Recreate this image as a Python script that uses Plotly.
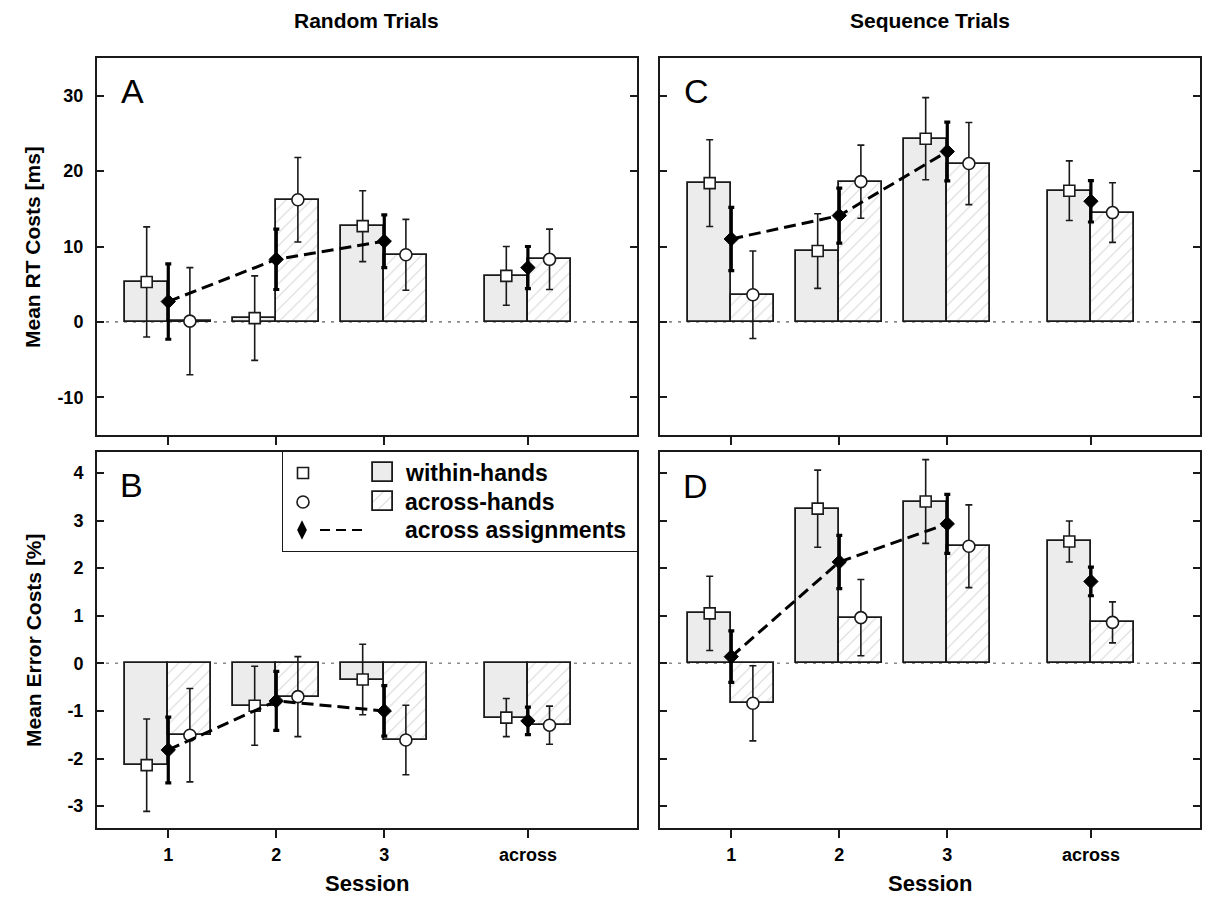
import plotly.graph_objects as go

FIG_W, FIG_H = 1209, 909
FONT = "Liberation Sans, Arial, Helvetica, sans-serif"
INK = "#1a1a1a"

# ---------------------------------------------------------------- data
session_labels = ["1", "2", "3", "across"]
session_pos = [1, 2, 3, 4.33]

# A: RT costs (ms), random trials
rt_rand_within = [5.3, 0.5, 12.7, 6.1]
rt_rand_within_err = [7.3, 5.6, 4.7, 3.9]
rt_rand_across = [0.1, 16.2, 8.9, 8.3]
rt_rand_across_err = [7.1, 5.6, 4.7, 4.0]
rt_rand_assign = [2.7, 8.3, 10.7, 7.2]
rt_rand_assign_err = [5.0, 4.0, 3.5, 2.8]

# C: RT costs (ms), sequence trials
rt_seq_within = [18.4, 9.4, 24.3, 17.4]
rt_seq_within_err = [5.75, 4.95, 5.45, 3.95]
rt_seq_across = [3.6, 18.6, 21.0, 14.5]
rt_seq_across_err = [5.8, 4.85, 5.45, 3.95]
rt_seq_assign = [11.0, 14.1, 22.6, 16.0]
rt_seq_assign_err = [4.2, 3.65, 3.9, 2.75]

# B: error costs (%), random trials
err_rand_within = [-2.14, -0.89, -0.34, -1.14]
err_rand_within_err = [0.97, 0.83, 0.74, 0.40]
err_rand_across = [-1.51, -0.70, -1.61, -1.30]
err_rand_across_err = [0.98, 0.84, 0.73, 0.40]
err_rand_assign = [-1.82, -0.79, -1.00, -1.21]
err_rand_assign_err = [0.69, 0.62, 0.53, 0.29]

# D: error costs (%), sequence trials
err_seq_within = [1.05, 3.25, 3.40, 2.56]
err_seq_within_err = [0.78, 0.81, 0.88, 0.43]
err_seq_across = [-0.84, 0.96, 2.46, 0.86]
err_seq_across_err = [0.79, 0.80, 0.87, 0.43]
err_seq_assign = [0.14, 2.13, 2.93, 1.72]
err_seq_assign_err = [0.54, 0.56, 0.62, 0.30]

rt_ticks = [-10, 0, 10, 20, 30]
rt_tick_labels = ["-10", "0", "10", "20", "30"]
err_ticks = [-3, -2, -1, 0, 1, 2, 3, 4]
err_tick_labels = ["-3", "-2", "-1", "0", "1", "2", "3", "4"]

# ---------------------------------------------------------------- layout helpers
def px_x(p):
    return p / FIG_W


def px_y(p):
    return 1 - p / FIG_H


X_RANGE = [0.34, 5.34]
RT_RANGE = [-15, 35]
ERR_RANGE = [-3.46, 4.44]

left_dom = [px_x(97), px_x(637)]
right_dom = [px_x(660), px_x(1200)]
top_dom = [px_y(435), px_y(58)]
bot_dom = [px_y(828), px_y(452)]

BAR_HALF = 0.2
WITHIN_FILL = "#ececec"
HATCH = dict(shape="/", fgcolor="#b0b0b0", bgcolor="white", size=9, solidity=0.12)

fig = go.Figure()


def add_panel(xa, ya, within, within_err, across, across_err, assign, assign_err):
    xw = [p - BAR_HALF for p in session_pos]
    xc = [p + BAR_HALF for p in session_pos]
    fig.add_trace(go.Bar(
        x=xw, y=within, width=2 * BAR_HALF, xaxis=xa, yaxis=ya,
        marker=dict(color=WITHIN_FILL, line=dict(color=INK, width=1.8)),
        showlegend=False, hoverinfo="skip"))
    fig.add_trace(go.Bar(
        x=xc, y=across, width=2 * BAR_HALF, xaxis=xa, yaxis=ya,
        marker=dict(color="white", line=dict(color=INK, width=1.8), pattern=HATCH),
        showlegend=False, hoverinfo="skip"))
    fig.add_trace(go.Scatter(
        x=xw, y=within, mode="markers", xaxis=xa, yaxis=ya,
        marker=dict(symbol="square", size=11, color="white",
                    line=dict(color=INK, width=1.6)),
        error_y=dict(type="data", array=within_err, color=INK, thickness=1.6, width=3.5),
        showlegend=False, hoverinfo="skip"))
    fig.add_trace(go.Scatter(
        x=xc, y=across, mode="markers", xaxis=xa, yaxis=ya,
        marker=dict(symbol="circle", size=12, color="white",
                    line=dict(color=INK, width=1.6)),
        error_y=dict(type="data", array=across_err, color=INK, thickness=1.6, width=3.5),
        showlegend=False, hoverinfo="skip"))
    # dashed trend across the three sessions
    fig.add_trace(go.Scatter(
        x=session_pos[:3], y=assign[:3], mode="lines", xaxis=xa, yaxis=ya,
        line=dict(color="black", width=3, dash="12px,6px"),
        showlegend=False, hoverinfo="skip"))
    fig.add_trace(go.Scatter(
        x=session_pos, y=assign, mode="markers", xaxis=xa, yaxis=ya,
        marker=dict(symbol="diamond", size=11, color="black",
                    line=dict(color="black", width=1)),
        error_y=dict(type="data", array=assign_err, color="black", thickness=3.2, width=3),
        showlegend=False, hoverinfo="skip"))


add_panel("x", "y", rt_rand_within, rt_rand_within_err, rt_rand_across,
          rt_rand_across_err, rt_rand_assign, rt_rand_assign_err)
add_panel("x2", "y2", rt_seq_within, rt_seq_within_err, rt_seq_across,
          rt_seq_across_err, rt_seq_assign, rt_seq_assign_err)
add_panel("x3", "y3", err_rand_within, err_rand_within_err, err_rand_across,
          err_rand_across_err, err_rand_assign, err_rand_assign_err)
add_panel("x4", "y4", err_seq_within, err_seq_within_err, err_seq_across,
          err_seq_across_err, err_seq_assign, err_seq_assign_err)

# ---------------------------------------------------------------- legend (inside panel B)
LEG_BOX = (283, 452, 637, 551)  # left, top, right, bottom in pixels
leg_rows = [473, 502, 530]
fig.add_trace(go.Scatter(
    x=[303], y=[leg_rows[0]], mode="markers", xaxis="x9", yaxis="y9",
    marker=dict(symbol="square", size=11, color="white", line=dict(color=INK, width=1.6)),
    showlegend=False, hoverinfo="skip"))
fig.add_trace(go.Scatter(
    x=[303], y=[leg_rows[1]], mode="markers", xaxis="x9", yaxis="y9",
    marker=dict(symbol="circle", size=12, color="white", line=dict(color=INK, width=1.6)),
    showlegend=False, hoverinfo="skip"))
fig.add_trace(go.Scatter(
    x=[302], y=[leg_rows[2]], mode="markers", xaxis="x9", yaxis="y9",
    marker=dict(symbol="diamond-tall", size=14, color="black"),
    showlegend=False, hoverinfo="skip"))
fig.add_trace(go.Scatter(
    x=[320, 364], y=[leg_rows[2], leg_rows[2]], mode="lines", xaxis="x9", yaxis="y9",
    line=dict(color="black", width=2, dash="10px,6px"),
    showlegend=False, hoverinfo="skip"))
fig.add_trace(go.Bar(
    x=[383], y=[19], base=[leg_rows[0] - 10], width=20, xaxis="x9", yaxis="y9",
    marker=dict(color=WITHIN_FILL, line=dict(color=INK, width=1.8)),
    showlegend=False, hoverinfo="skip"))
fig.add_trace(go.Bar(
    x=[383], y=[19], base=[leg_rows[1] - 10], width=20, xaxis="x9", yaxis="y9",
    marker=dict(color="white", line=dict(color=INK, width=1.8), pattern=HATCH),
    showlegend=False, hoverinfo="skip"))

# ---------------------------------------------------------------- axes
tickfont = dict(family=FONT, size=18, color="black", weight="bold")


def xaxis_main(domain, anchor, labels):
    return dict(domain=domain, anchor=anchor, range=X_RANGE, showgrid=False,
                zeroline=False, showline=True, linecolor=INK, linewidth=2,
                mirror=True, ticks="outside", ticklen=8, tickwidth=2,
                tickcolor=INK, tickvals=session_pos, ticktext=session_labels,
                showticklabels=labels, tickfont=tickfont, ticklabelstandoff=1)


def xaxis_top(over, anchor, vals):
    return dict(overlaying=over, anchor=anchor, side="top", range=X_RANGE,
                showgrid=False, zeroline=False, showline=False,
                ticks="inside", ticklen=6, tickwidth=2, tickcolor=INK,
                tickvals=vals, showticklabels=False)


def yaxis_main(domain, anchor, rng, vals, texts, labels, mirror="ticks"):
    return dict(domain=domain, anchor=anchor, range=rng, showgrid=False,
                zeroline=False, showline=True, linecolor=INK, linewidth=2,
                mirror=mirror, ticks="inside", ticklen=7, tickwidth=2,
                tickcolor=INK, tickvals=vals, ticktext=texts,
                showticklabels=labels, tickfont=tickfont, ticklabelstandoff=8)


fig.update_layout(
    xaxis=xaxis_main(left_dom, "y", False),
    yaxis=yaxis_main(top_dom, "x", RT_RANGE, rt_ticks, rt_tick_labels, True),
    xaxis2=xaxis_main(right_dom, "y2", False),
    yaxis2=yaxis_main(top_dom, "x2", RT_RANGE, rt_ticks, rt_tick_labels, False),
    xaxis3=xaxis_main(left_dom, "y3", True),
    yaxis3=yaxis_main(bot_dom, "x3", ERR_RANGE, err_ticks, err_tick_labels, True,
                      mirror=True),
    xaxis4=xaxis_main(right_dom, "y4", True),
    yaxis4=yaxis_main(bot_dom, "x4", ERR_RANGE, err_ticks, err_tick_labels, False),
    xaxis5=xaxis_top("x", "y", [1, 2, 3, 4, 5]),
    xaxis6=xaxis_top("x2", "y2", [1, 2, 3, 4, 5]),
    xaxis7=xaxis_top("x3", "y3", [1, 2]),
    xaxis8=xaxis_top("x4", "y4", [1, 2, 3, 4, 5]),
    # right-hand ticks of panel B that stay visible below the legend box
    yaxis10=dict(overlaying="y3", anchor="x3", side="right", range=ERR_RANGE,
                 showgrid=False, zeroline=False, showline=False, ticks="inside",
                 ticklen=7, tickwidth=2, tickcolor=INK,
                 tickvals=[-3, -2, -1, 0, 1, 2], showticklabels=False),
    xaxis9=dict(domain=[px_x(LEG_BOX[0]), px_x(LEG_BOX[2])], anchor="y9",
                range=[LEG_BOX[0], LEG_BOX[2]], visible=False),
    yaxis9=dict(domain=[px_y(LEG_BOX[3]), px_y(LEG_BOX[1])], anchor="x9",
                range=[LEG_BOX[3], LEG_BOX[1]], visible=False),
)

# ---------------------------------------------------------------- shapes
shapes = []
for xa, ya in [("x", "y"), ("x2", "y2"), ("x3", "y3"), ("x4", "y4")]:
    shapes.append(dict(type="line", xref=f"{xa} domain", yref=ya, x0=0, x1=1,
                       y0=0, y1=0, layer="below",
                       line=dict(color="#8a8a8a", width=1.6, dash="3px,6px")))
shapes.append(dict(type="rect", xref="paper", yref="paper",
                   x0=px_x(LEG_BOX[0]), x1=px_x(LEG_BOX[2]),
                   y0=px_y(LEG_BOX[3]), y1=px_y(LEG_BOX[1]),
                   line=dict(color=INK, width=2), fillcolor="white", layer="below"))

# ---------------------------------------------------------------- text
ann = []


def text(x, y, s, size, bold=True, **kw):
    ann.append(dict(x=px_x(x), y=px_y(y), xref="paper", yref="paper", text=s,
                    showarrow=False, xanchor="center", yanchor="middle",
                    font=dict(family=FONT, size=size, color="black",
                              weight="bold" if bold else "normal"), **kw))


text(366, 21, "Random Trials", 21)
text(930, 21, "Sequence Trials", 21)
text(33, 247, "Mean RT Costs [ms]", 21, textangle=-90)
text(33, 640, "Mean Error Costs [%]", 21, textangle=-90)
text(367, 883, "Session", 22)
text(930, 883, "Session", 22)
text(132, 91, "A", 34, bold=False)
text(131, 485, "B", 34, bold=False)
text(696, 91, "C", 34, bold=False)
text(695, 486, "D", 34, bold=False)

for row, label in zip(leg_rows, ["within-hands", "across-hands", "across assignments"]):
    ann.append(dict(x=403, y=row, xref="x9", yref="y9", text=label, showarrow=False,
                    xanchor="left", yanchor="middle",
                    font=dict(family=FONT, size=23, color="black", weight="bold")))

fig.update_layout(
    width=FIG_W, height=FIG_H, autosize=False,
    margin=dict(l=0, r=0, t=0, b=0),
    paper_bgcolor="white", plot_bgcolor="white",
    barmode="overlay", bargap=0,
    showlegend=False,
    shapes=shapes, annotations=ann,
)

fig.write_html("out.html")
